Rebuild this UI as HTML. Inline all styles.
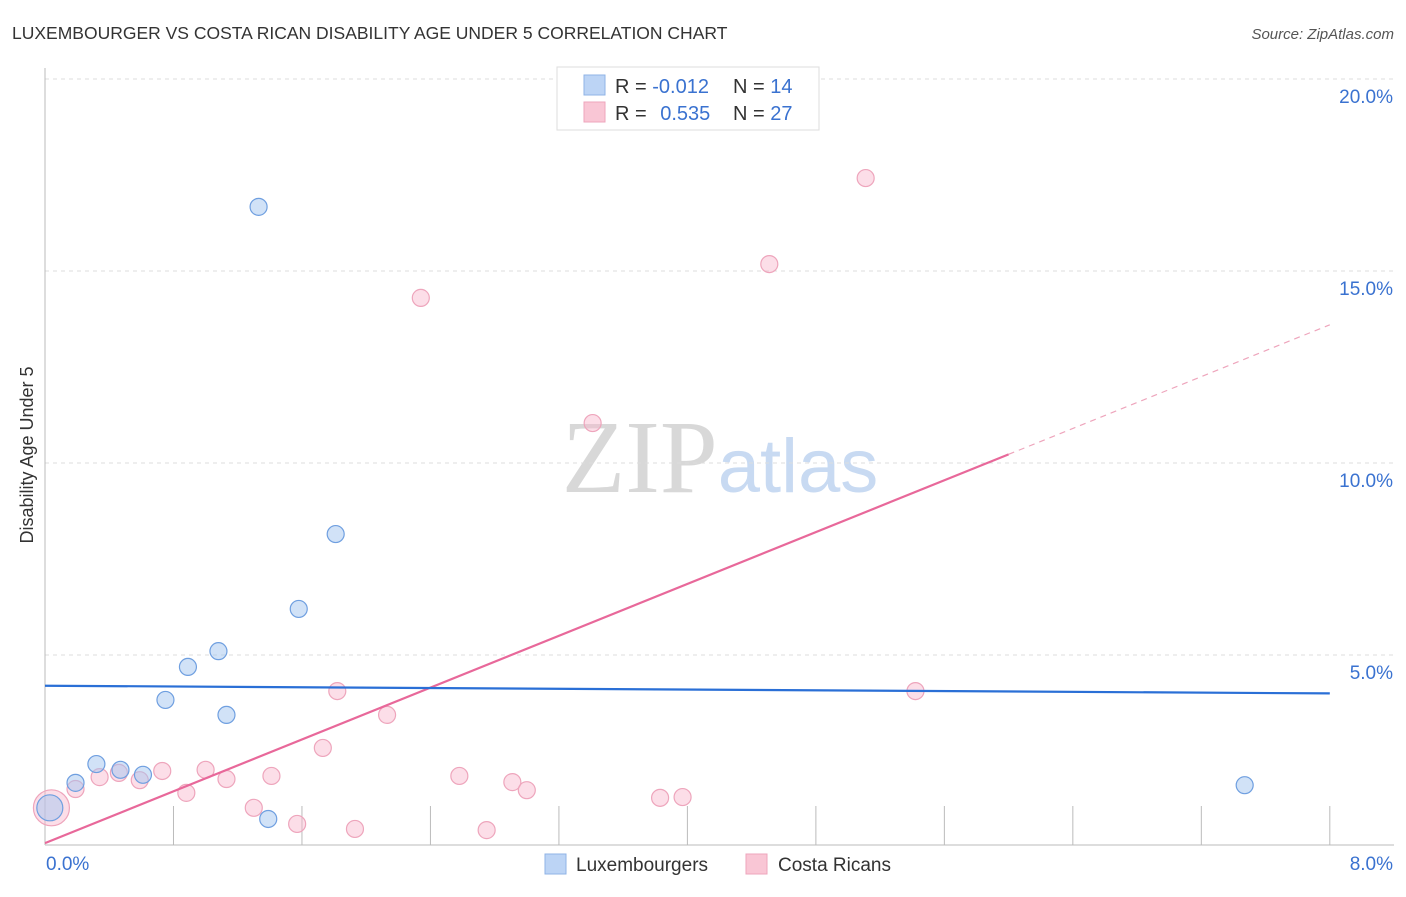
<!DOCTYPE html>
<html><head><meta charset="utf-8"><style>
body{margin:0;background:#fff;font-family:"Liberation Sans",sans-serif;}
svg text{font-family:"Liberation Sans",sans-serif;}
</style></head><body>
<svg id="chart" width="1406" height="892">
<text x="12" y="39" font-size="17.5" fill="#333">LUXEMBOURGER VS COSTA RICAN DISABILITY AGE UNDER 5 CORRELATION CHART</text>
<text x="1394" y="39" font-size="15" fill="#555" text-anchor="end" font-style="italic">Source: ZipAtlas.com</text>
<text x="33" y="455" font-size="18" fill="#333" text-anchor="middle" transform="rotate(-90 33 455)">Disability Age Under 5</text>
<text x="720" y="492" font-size="104" fill="#ddd" text-anchor="middle" font-family="Liberation Serif"><tspan fill="#d8d8d8" font-family="Liberation Serif">ZIP</tspan><tspan fill="#c8daf2" font-size="76" font-family="Liberation Sans">atlas</tspan></text>
<g id="grid"></g><g id="marks"></g>
<g>
<rect x="557" y="67" width="262" height="63" fill="#fff" stroke="#ddd"/>
<rect x="584" y="75" width="21" height="20" fill="#bcd4f5" stroke="#8fb3e6"/>
<rect x="584" y="102" width="21" height="20" fill="#f9c6d5" stroke="#eea5bc"/>
<text x="615" y="93" font-size="20" fill="#333">R = <tspan fill="#3a72d0">-0.012</tspan></text>
<text x="733" y="93" font-size="20" fill="#333">N = <tspan fill="#3a72d0">14</tspan></text>
<text x="615" y="120" font-size="20" fill="#333">R = <tspan fill="#3a72d0" dx="8">0.535</tspan></text>
<text x="733" y="120" font-size="20" fill="#333">N = <tspan fill="#3a72d0">27</tspan></text>
</g>
<g>
<rect x="545" y="854" width="21" height="20" fill="#bcd4f5" stroke="#8fb3e6"/>
<text x="576" y="871" font-size="19" fill="#333">Luxembourgers</text>
<rect x="746" y="854" width="21" height="20" fill="#f9c6d5" stroke="#eea5bc"/>
<text x="778" y="871" font-size="19" fill="#333">Costa Ricans</text>
</g>
</svg>
<script>
const yTicks=[5,10,15,20];
const yTickLabels=["5.0%","10.0%","15.0%","20.0%"];
const xTickLabels=["0.0%","8.0%"];
const luxX=[1.33,1.81,1.58,1.08,0.89,0.75,1.13,0.32,0.47,0.61,0.19,0.03,1.39,7.47];
const luxY=[16.67,8.15,6.20,5.10,4.69,3.83,3.44,2.16,2.01,1.88,1.67,1.02,0.73,1.61];
const luxBig=[0,0,0,0,0,0,0,0,0,0,0,1,0,0];
const crX=[5.11,4.51,2.34,3.41,5.42,1.82,2.13,1.73,0.73,1.00,0.34,0.46,0.59,1.13,1.41,2.58,2.91,3.00,0.19,0.88,1.30,1.57,1.93,2.75,3.83,3.97,0.04];
const crY=[17.42,15.18,14.30,11.04,4.06,4.06,3.44,2.58,1.98,2.01,1.82,1.93,1.74,1.77,1.85,1.85,1.69,1.48,1.51,1.41,1.02,0.60,0.47,0.44,1.28,1.30,1.02];
const crBig=[0,0,0,0,0,0,0,0,0,0,0,0,0,0,0,0,0,0,0,0,0,0,0,0,0,0,1];
const luxTrend=[4.2,4.0];
const crTrend=[0.1,13.6];
const crSolidEnd=6.0;
const NS="http://www.w3.org/2000/svg";
const X=v=>45+v*160.6, Y=v=>847-v*38.4;
function mk(p,t,a){const e=document.createElementNS(NS,t);for(const k in a)e.setAttribute(k,a[k]);p.appendChild(e);return e;}
const grid=document.getElementById('grid'), marks=document.getElementById('marks');
yTicks.forEach((t,i)=>{
 const l=mk(grid,'line',{x1:45,x2:1394,y1:Y(t),y2:Y(t),stroke:'#ddd','stroke-dasharray':'4,4'});
 
 
 const tx=mk(grid,'text',{x:1393,y:Y(t)+24,'font-size':19,fill:'#3a72d0','text-anchor':'end'});
 tx.textContent=yTickLabels[i];
 
 
});
mk(grid,'line',{x1:45,x2:45,y1:68,y2:845,stroke:'#bbb'});
mk(grid,'line',{x1:45,x2:1394,y1:845,y2:845,stroke:'#bbb'});
for(let k=1;k<=10;k++){const xx=X(k*0.8);const l=mk(grid,'line',{x1:xx,x2:xx,y1:806,y2:845,stroke:'#bbb'});
 
 }
const t0=mk(grid,'text',{x:46,y:870,'font-size':19,fill:'#3a72d0'});t0.textContent=xTickLabels[0];


const t1=mk(grid,'text',{x:1393,y:870,'font-size':19,fill:'#3a72d0','text-anchor':'end'});t1.textContent=xTickLabels[1];


crX.forEach((x,i)=>{const c=mk(marks,'circle',{cx:X(x),cy:Y(crY[i]),r:crBig[i]?18:8.5,fill:'rgba(248,182,204,0.45)',stroke:'#eea5bc','stroke-width':1.2});
 
 });
luxX.forEach((x,i)=>{const c=mk(marks,'circle',{cx:X(x),cy:Y(luxY[i]),r:luxBig[i]?13:8.5,fill:'rgba(164,198,240,0.5)',stroke:'#6f9fe0','stroke-width':1.2});
 
 });
const cy=x=>crTrend[0]+(crTrend[1]-crTrend[0])*x/8;
const p1=mk(marks,'line',{x1:X(0),y1:Y(cy(0)),x2:X(crSolidEnd),y2:Y(cy(crSolidEnd)),stroke:'#e8689a','stroke-width':2.2});


const p2=mk(marks,'line',{x1:X(crSolidEnd),y1:Y(cy(crSolidEnd)),x2:X(8),y2:Y(cy(8)),stroke:'#eea5bc','stroke-width':1.2,'stroke-dasharray':'6,5'});


const b=mk(marks,'line',{x1:X(0),y1:Y(luxTrend[0]),x2:X(8),y2:Y(luxTrend[1]),stroke:'#2a6fd6','stroke-width':2.2});


</script>
</body></html>
